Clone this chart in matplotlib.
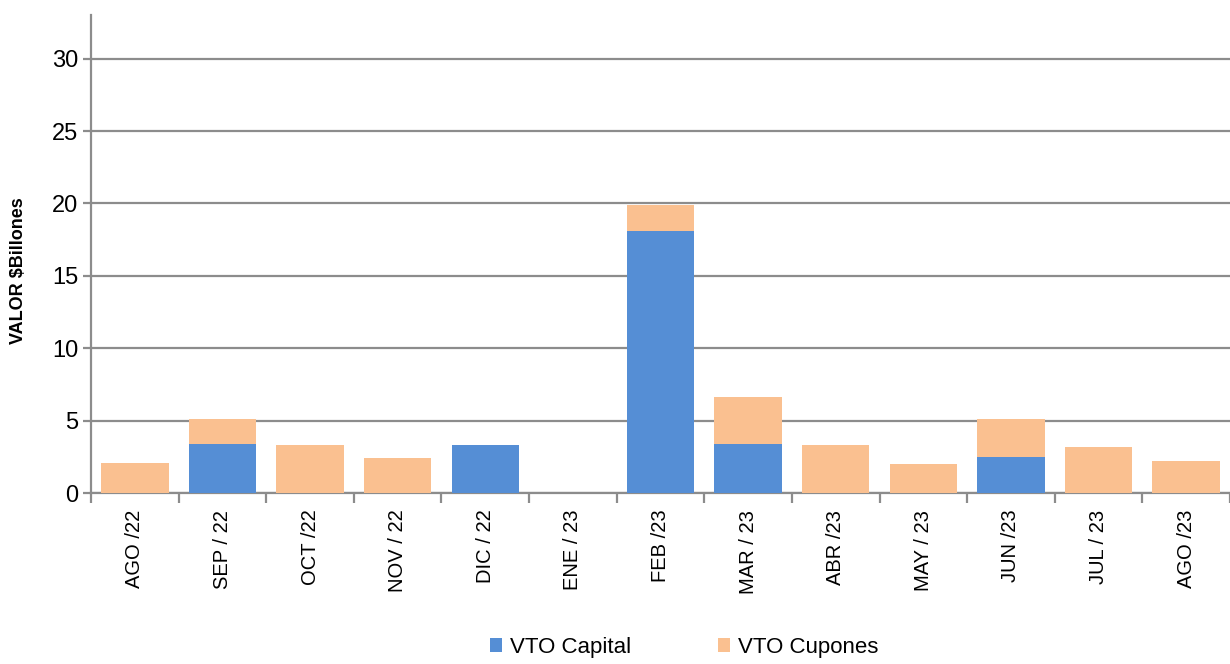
import matplotlib
matplotlib.use("Agg")
import matplotlib.pyplot as plt
import numpy as np
from matplotlib.ticker import FixedLocator

meses = ["AGO /22", "SEP / 22", "OCT /22", "NOV / 22", "DIC / 22", "ENE / 23", "FEB /23",
         "MAR / 23", "ABR /23", "MAY / 23", "JUN /23", "JUL / 23", "AGO /23"]
vto_capital = [0, 3.4, 0, 0, 3.3, 0, 18.1, 3.4, 0, 0, 2.5, 0, 0]
vto_cupones = [2.1, 1.7, 3.3, 2.4, 0, 0, 1.8, 3.2, 3.3, 2.0, 2.6, 3.2, 2.2]

azul = "#558ED5"
naranja = "#FAC090"
gris = "#8C8C8C"
fuente = "Liberation Sans"

fig = plt.figure(figsize=(12.3, 6.64), dpi=100)
ax = fig.add_axes([0.074, 0.2575, 0.926, 0.7195])

x = np.arange(len(meses))
ax.bar(x, vto_capital, width=0.77, color=azul, label="VTO Capital", zorder=3)
ax.bar(x, vto_cupones, width=0.77, bottom=vto_capital, color=naranja, label="VTO Cupones", zorder=3)

ax.set_xlim(-0.5, len(meses) - 0.5)
ax.set_ylim(0, 33)
ax.set_yticks([0, 5, 10, 15, 20, 25, 30])
ax.yaxis.grid(True, color=gris, linewidth=1.6, zorder=0)
ax.set_axisbelow(True)

for s in ["top", "right"]:
    ax.spines[s].set_visible(False)
ax.spines["left"].set_color(gris)
ax.spines["bottom"].set_color(gris)
ax.spines["left"].set_linewidth(1.6)
ax.spines["bottom"].set_linewidth(1.6)

ax.tick_params(axis="y", length=6, width=1.6, color=gris, labelsize=17, pad=3)
for t in ax.get_yticklabels():
    t.set_family(fuente)

# etiquetas centradas, marcas entre categorias
ax.set_xticks(x)
ax.set_xticklabels(meses, rotation=90, fontsize=14.5, family=fuente, va="top", ha="center")
ax.tick_params(axis="x", which="major", length=0, pad=12)
ax.xaxis.set_minor_locator(FixedLocator(np.arange(-0.5, len(meses), 1.0)))
ax.tick_params(axis="x", which="minor", length=7, width=1.6, color=gris)

fig.text(0.015, 0.593, "VALOR $Billones", rotation=90, fontsize=13, fontweight="bold",
         family=fuente, ha="center", va="center")

fig.legend(loc="center", bbox_to_anchor=(0.556, 0.025), ncol=2, frameon=False,
           prop={"family": fuente, "size": 16}, handlelength=0.55, handleheight=0.55,
           handletextpad=0.35, columnspacing=3.9)

fig.savefig("out.png", dpi=100)
